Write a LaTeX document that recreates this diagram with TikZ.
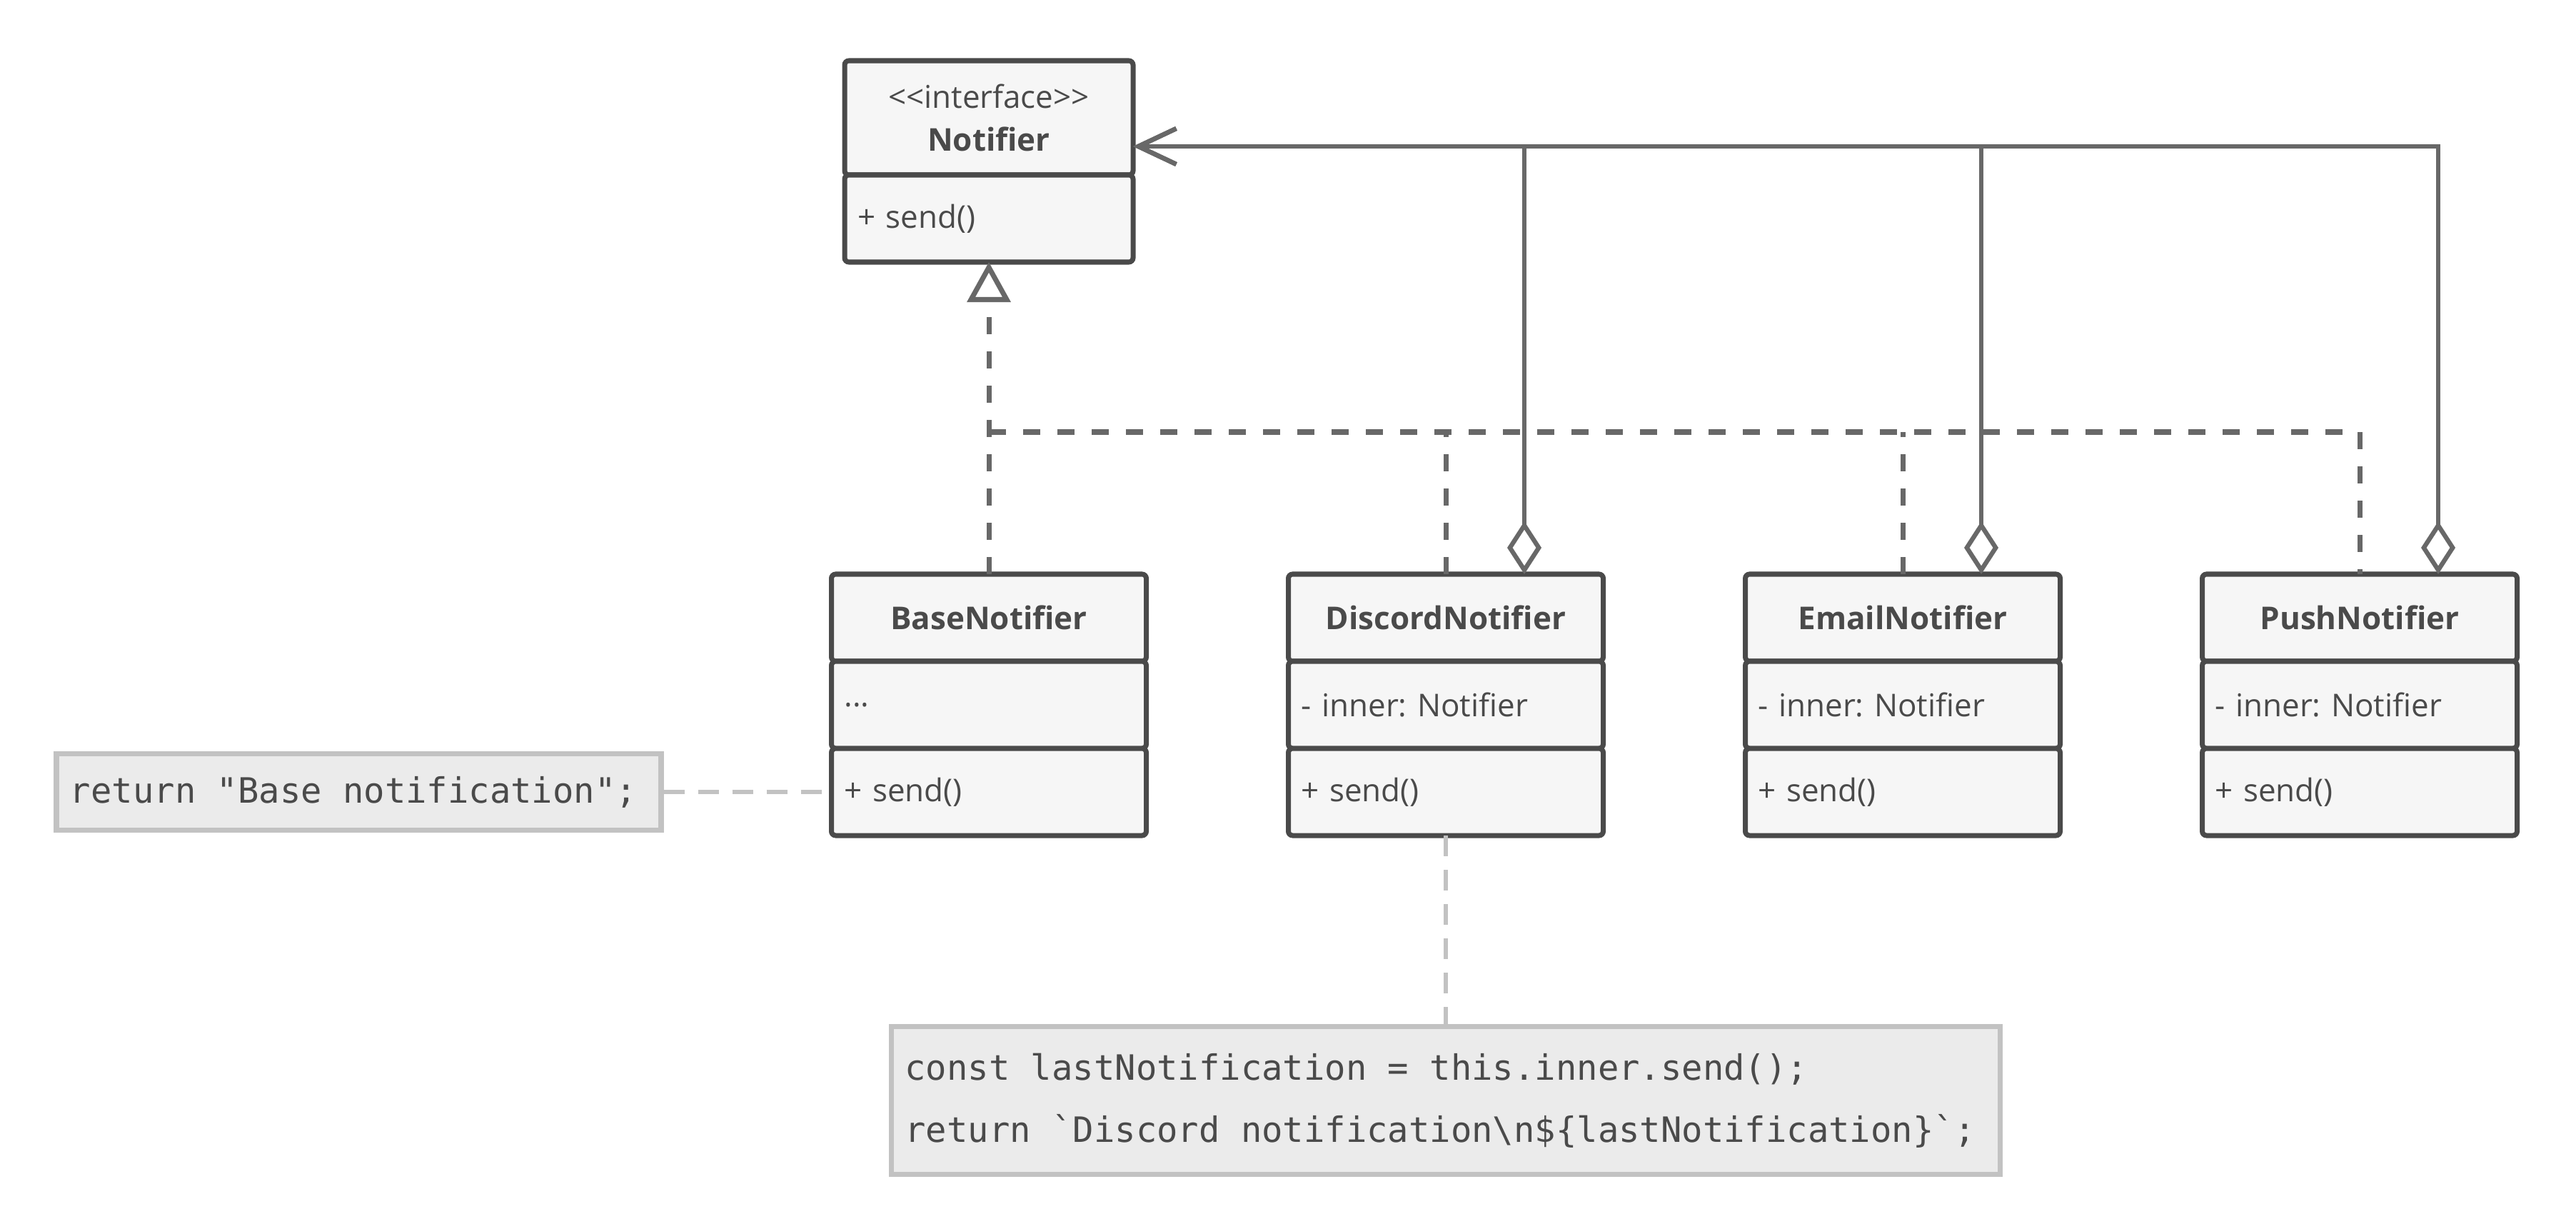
\documentclass[tikz,border=0pt]{standalone}
\usepackage{fontspec}
\setmainfont{Open Sans}[Ligatures=TeXOff]
\setmonofont{DejaVu Sans Mono}
\usetikzlibrary{arrows.meta}
\usetikzlibrary{positioning}

\definecolor{umlline}{HTML}{4A4A4A}
\definecolor{umlfill}{HTML}{F6F6F6}
\definecolor{umlwire}{HTML}{686868}
\definecolor{noteborder}{HTML}{C2C2C2}
\definecolor{notefill}{HTML}{EBEBEB}

\begin{document}
\begin{tikzpicture}[
  part/.style={draw=umlline, fill=umlfill, line width=2pt, rounded corners=0.06cm, outer sep=0pt,
    text=umlline, font=\fontsize{12.5}{17}\selectfont\frenchspacing, minimum width=4.41cm, text width=4.05cm,
    inner xsep=0.18cm, minimum height=1.22cm},
  title/.style={part, align=center, font=\bfseries\fontsize{12.5}{17}\selectfont},
  realize/.style={draw=umlwire, line width=2pt, dash pattern=on 0.24cm off 0.24cm},
  aggregate/.style={draw=umlwire, line width=1.8pt, {Diamond[open,length=0.74cm,width=0.48cm]}-{Straight Barb[length=0.53cm,width=0.5cm]}},
  note/.style={draw=noteborder, fill=notefill, line width=2pt, text=umlline, inner xsep=0.19cm,
    font=\ttfamily\fontsize{13.9}{24.7}\selectfont,
    execute at begin node={\spaceskip=0.602em\xspaceskip=0.602em\relax}},
  noteline/.style={draw=noteborder, line width=1.8pt, dash pattern=on 0.29cm off 0.19cm}]
\useasboundingbox (0,0) rectangle (36.08,-17.2);
\node[title, minimum width=4.04cm, text width=3.68cm, minimum height=1.6cm] (notifier) at (13.85,-1.65) {{\mdseries\textless\textless interface\textgreater\textgreater}\\Notifier};
\node[part, minimum width=4.04cm, text width=3.68cm, below=0pt of notifier] (notifier-op) {+ send()};
\node[title] (base) at (13.85,-8.65) {BaseNotifier};
\node[part, below=0pt of base] (base-attr) {...};
\node[part, below=0pt of base-attr] (base-op) {+ send()};
\node[title, right=1.99cm of base] (discord) {DiscordNotifier};
\node[part, below=0pt of discord] (discord-attr) {- inner: Notifier};
\node[part, below=0pt of discord-attr] (discord-op) {+ send()};
\node[title, right=1.99cm of discord] (email) {EmailNotifier};
\node[part, below=0pt of email] (email-attr) {- inner: Notifier};
\node[part, below=0pt of email-attr] (email-op) {+ send()};
\node[title, right=1.99cm of email] (push) {PushNotifier};
\node[part, below=0pt of push] (push-attr) {- inner: Notifier};
\node[part, below=0pt of push-attr] (push-op) {+ send()};
\node[note, minimum width=8.47cm, minimum height=1.07cm, text width=8.09cm, left=2.35cm of base-op] (base-note) {return "Base notification";};
\node[note, minimum width=15.53cm, minimum height=2.07cm, text width=15.15cm, below=2.64cm of discord-op] (discord-note) {const lastNotification = this.inner.send();\\return `Discord notification\textbackslash n\$\{lastNotification\}`;};
\coordinate (bus) at (13.85,-6.05);
\coordinate (discord-hook) at ([xshift=1.1cm]discord.north);
\coordinate (email-hook) at ([xshift=1.1cm]email.north);
\coordinate (push-hook) at ([xshift=1.1cm]push.north);
\draw[realize, -{Triangle[open,length=0.56cm,width=0.6cm]}] (base) -- (notifier-op);
\draw[realize] (bus) -| (push);
\draw[realize] (discord) -- (discord |- bus);
\draw[realize] (email) -- (email |- bus);
\draw[aggregate] (discord-hook) |- ([yshift=-0.4cm]notifier.east);
\draw[aggregate] (email-hook) |- ([yshift=-0.4cm]notifier.east);
\draw[aggregate] (push-hook) |- ([yshift=-0.4cm]notifier.east);
\draw[noteline] (base-note) -- (base-op);
\draw[noteline] (discord-op) -- (discord-note);
\end{tikzpicture}
\end{document}
